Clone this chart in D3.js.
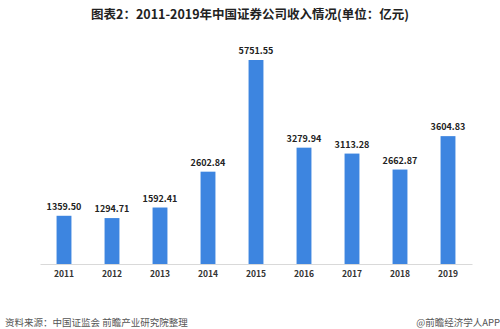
<!DOCTYPE html>
<html>
<head>
<meta charset="utf-8">
<script src="https://cdn.jsdelivr.net/npm/d3@7"></script>
<style>
  body { margin: 0; background: #fff; }
  text { font-family: "Microsoft YaHei", "Noto Sans CJK SC", sans-serif; }
</style>
</head>
<body>
<div id="chart"></div>
<script>
var years = ["2011", "2012", "2013", "2014", "2015", "2016", "2017", "2018", "2019"]
var revenue = [1359.50, 1294.71, 1592.41, 2602.84, 5751.55, 3279.94, 3113.28, 2662.87, 3604.83]

var W = 500, H = 329
var margin = {top: 60, left: 40, right: 28, baseline: 264}

var svg = d3.select("#chart")
  .append("svg")
    .attr("width", W)
    .attr("height", H)

// title
svg.append("text")
  .attr("x", 250).attr("y", 19)
  .attr("text-anchor", "middle")
  .attr("font-size", 12.5)
  .attr("font-weight", "bold")
  .attr("fill", "#222")
  .text("图表2：2011-2019年中国证券公司收入情况(单位：亿元)")

var x = d3.scaleBand()
  .domain(years)
  .range([margin.left, W - margin.right])
  .paddingInner(0.69)
  .paddingOuter(0.345)

var y = d3.scaleLinear()
  .domain([0, 5751.55])
  .range([margin.baseline, margin.top])

// bars
svg.selectAll("rect.bar")
  .data(revenue)
  .enter().append("rect")
    .attr("class", "bar")
    .attr("x", (d, i) => x(years[i]))
    .attr("y", d => y(d))
    .attr("width", x.bandwidth())
    .attr("height", d => y(0) - y(d))
    .attr("fill", "#3d85e0")

// value labels
svg.selectAll("text.val")
  .data(revenue)
  .enter().append("text")
    .attr("class", "val")
    .attr("x", (d, i) => x(years[i]) + x.bandwidth() / 2)
    .attr("y", d => y(d) - 6)
    .attr("text-anchor", "middle")
    .attr("font-size", 9)
    .attr("font-weight", "bold")
    .attr("fill", "#222")
    .text(d => d.toFixed(2))

// x axis
var xAxis = svg.append("g")
  .attr("transform", "translate(0," + margin.baseline + ")")
  .call(d3.axisBottom(x).tickSize(0).tickPadding(7))
xAxis.select(".domain").attr("stroke", "#d9d9d9")
xAxis.selectAll("text")
  .attr("font-size", 8.5)
  .attr("font-weight", "bold")
  .attr("fill", "#333")
  .style("font-family", "\"Noto Sans CJK SC\", sans-serif")

// footer
svg.append("text")
  .attr("x", 5).attr("y", 326)
  .attr("font-size", 9.5)
  .attr("fill", "#555")
  .text("资料来源：中国证监会 前瞻产业研究院整理")

svg.append("text")
  .attr("x", 500).attr("y", 326)
  .attr("text-anchor", "end")
  .attr("font-size", 9.5)
  .attr("fill", "#555")
  .text("@前瞻经济学人APP")
</script>
</body>
</html>
